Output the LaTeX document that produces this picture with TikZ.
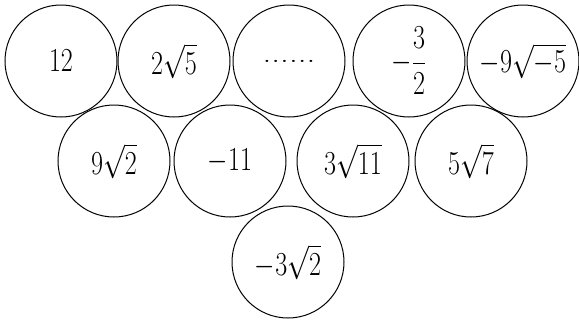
\documentclass[tikz,border=0pt]{standalone}
\usepackage{amsmath}
\tikzset{
  numc/.style={draw=black, line width=1pt, circle, minimum size=112pt, inner sep=0pt,
    font=\Huge},
}
\newcommand{\sq}[1]{\scalebox{1.05}[1.35]{#1}}
\begin{document}
\begin{tikzpicture}[x=1pt,y=-1pt]
\useasboundingbox (0,0) rectangle (579,327);
\node[numc] (a1) at (61,61) {\sq{$12$}};
\node[numc] (a2) at (174,61) {\sq{$2\sqrt{5}$}};
\node[numc] (a3) at (289,61) {\scalebox{1.6}[1.2]{\fontsize{22}{24}\selectfont......}};
\node[numc] (a4) at (409,61) {\sq{$-\dfrac{3}{2}$}};
\node[numc] (a5) at (523,61) {\sq{$-9\sqrt{-5}$}};
\node[numc] (b1) at (114,161) {\sq{$9\sqrt{2}$}};
\node[numc] (b2) at (230,161) {\sq{$-11$}};
\node[numc] (b3) at (353,161) {\sq{$3\sqrt{11}$}};
\node[numc] (b4) at (471,161) {\sq{$5\sqrt{7}$}};
\node[numc] (c1) at (288,262) {\sq{$-3\sqrt{2}$}};
\end{tikzpicture}
\end{document}
